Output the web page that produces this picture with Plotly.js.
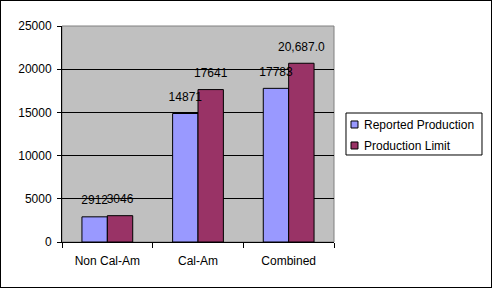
<!DOCTYPE html>
<html><head><meta charset="utf-8">
<script src="https://cdn.plot.ly/plotly-3.0.1.min.js"></script>
<style>html,body{margin:0;padding:0;background:#fff}#chart{width:490px;height:286px;border:1px solid #000}</style>
</head><body><div id="chart"></div>
<script>
const categories = ["Non Cal-Am", "Cal-Am", "Combined"];
const seriesNames = ["Reported Production", "Production Limit"];
const seriesColors = ["#9999FF", "#993366"];
const reported = [2912, 14871, 17783];
const reportedLabels = ["2912", "14871", "17783"];
const limit = [3046, 17641, 20687];
const limitLabels = ["3046", "17641", "20,687.0"];
const yTicks = [0, 5000, 10000, 15000, 20000, 25000];

const font = {family: "Arial, 'Liberation Sans', sans-serif", size: 12, color: "#000"};
const values = [reported, limit];
const labels = [reportedLabels, limitLabels];
const traces = [];
values.forEach((v, i) => traces.push({type: "bar", name: seriesNames[i], x: categories, y: v,
  offsetgroup: "g" + i, showlegend: false,
  marker: {color: seriesColors[i], line: {color: "#000", width: 1}}}));
values.forEach((v, i) => traces.push({type: "scatter", mode: "markers+text", x: categories, y: v,
  text: labels[i], offsetgroup: "g" + i, textposition: "top center", textfont: font,
  marker: {size: 14, opacity: 0}, cliponaxis: false, showlegend: false, hoverinfo: "skip"}));

// manual legend (box, swatches, names)
const legBox = {x0: 1.0441, x1: 1.5441, y0: 0.4028, y1: 0.5972};
const swX = [1.0625, 1.0882];
const swY = [[0.5278, 0.5602], [0.4306, 0.4630]];
const txtY = [0.5417, 0.4444];
const shapes = [
  {type: "rect", xref: "paper", yref: "paper", x0: 0, x1: 1, y0: 0, y1: 1,
   line: {color: "#808080", width: 1}, layer: "below"},
  {type: "rect", xref: "paper", yref: "paper", x0: legBox.x0, x1: legBox.x1, y0: legBox.y0, y1: legBox.y1,
   fillcolor: "#fff", line: {color: "#000", width: 1}}
];
const annotations = [];
seriesNames.forEach((n, i) => {
  shapes.push({type: "rect", xref: "paper", yref: "paper", x0: swX[0], x1: swX[1], y0: swY[i][0], y1: swY[i][1],
    fillcolor: seriesColors[i], line: {color: "#000", width: 1}});
  annotations.push({xref: "paper", yref: "paper", x: 1.1029, y: txtY[i], xanchor: "left", yanchor: "middle",
    text: n, showarrow: false, font: font});
});

const layout = {
  width: 490, height: 286,
  margin: {l: 61, r: 157, t: 25, b: 45, pad: 0},
  paper_bgcolor: "#fff", plot_bgcolor: "#C0C0C0",
  font: font,
  barmode: "group", bargap: 0.44, bargroupgap: 0,
  scattermode: "group", scattergap: 0.44,
  showlegend: false,
  xaxis: {type: "category", showline: true, linecolor: "#000", linewidth: 1,
          ticks: "outside", tickson: "boundaries", ticklen: 5, tickcolor: "#000",
          showgrid: false, fixedrange: true, ticklabelstandoff: 8},
  yaxis: {range: [0, 25000], tickvals: yTicks, ticktext: yTicks.map(String),
          showline: true, linecolor: "#000", linewidth: 1,
          ticks: "outside", ticklen: 4, tickcolor: "#000",
          gridcolor: "#000", gridwidth: 1, zeroline: false, ticklabelstandoff: 3},
  shapes: shapes,
  annotations: annotations
};
Plotly.newPlot("chart", traces, layout, {displayModeBar: false, staticPlot: true});
</script></body></html>
